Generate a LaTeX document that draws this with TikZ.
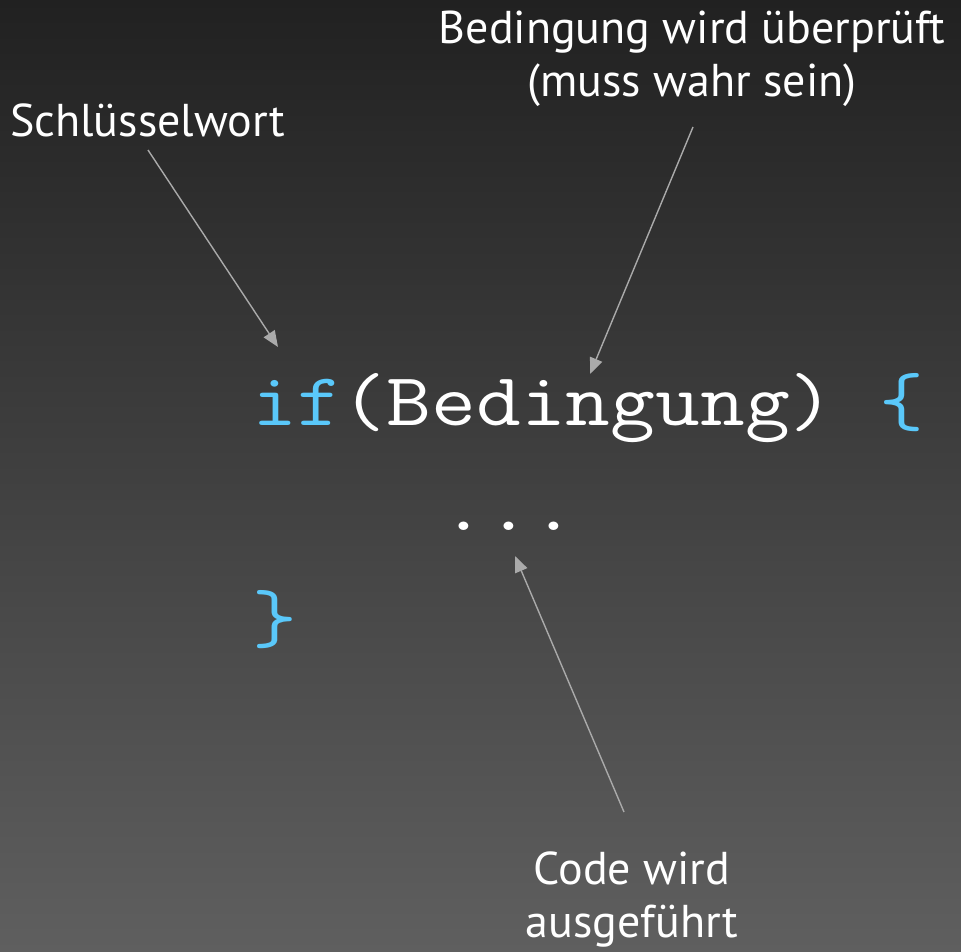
\documentclass[tikz,border=0pt]{standalone}
\usepackage{fontspec}
\setmainfont{PT Sans}
\usetikzlibrary{arrows.meta}
\definecolor{kwblue}{RGB}{90,200,250}
\definecolor{arrowgray}{RGB}{170,170,170}
\definecolor{bgtop}{RGB}{33,33,33}
\definecolor{bgbot}{RGB}{95,95,95}
\newcommand{\codetext}[1]{\scalebox{1.16}[1]{\ttfamily\fontsize{75}{80}\selectfont #1}}
\tikzset{
  label/.style={text=white, inner sep=0pt, font=\fontsize{46}{53}\selectfont},
  code/.style={text=white, inner sep=0pt},
  pointer/.style={draw=arrowgray, line width=1.4pt, -{Triangle[length=16pt,width=13pt]}},
}
\begin{document}
\begin{tikzpicture}[x=1pt,y=-1pt]
\shade[top color=bgtop, bottom color=bgbot] (0,0) rectangle (961,952);
\useasboundingbox (0,0) rectangle (961,952);

\node[label, anchor=base west] (kw) at (10,137) {Schlüsselwort};
\node[label, anchor=base, align=center] (cond) at (692,97) {Bedingung wird überprüft\\(muss wahr sein)};
\node[label, anchor=base, align=center] (exec) at (632,937) {Code wird\\ausgeführt};

\node[code, anchor=base west] (line1) at (252,425) {\codetext{\textcolor{kwblue}{if}(Bedingung) \textcolor{kwblue}{\{}}};
\node[code, anchor=base] (dots) at (509,530) {\codetext{...}};
\node[code, anchor=base west, text=kwblue] (close) at (252,642) {\codetext{\}}};

\coordinate (kwfrom) at (148,150);
\coordinate (kwto) at (278,347);
\coordinate (condfrom) at (693,127);
\coordinate (condto) at (590,374);
\coordinate (execfrom) at (624,812);
\coordinate (execto) at (515,556);

\draw[pointer] (kwfrom) -- (kwto);
\draw[pointer] (condfrom) -- (condto);
\draw[pointer] (execfrom) -- (execto);
\end{tikzpicture}
\end{document}
